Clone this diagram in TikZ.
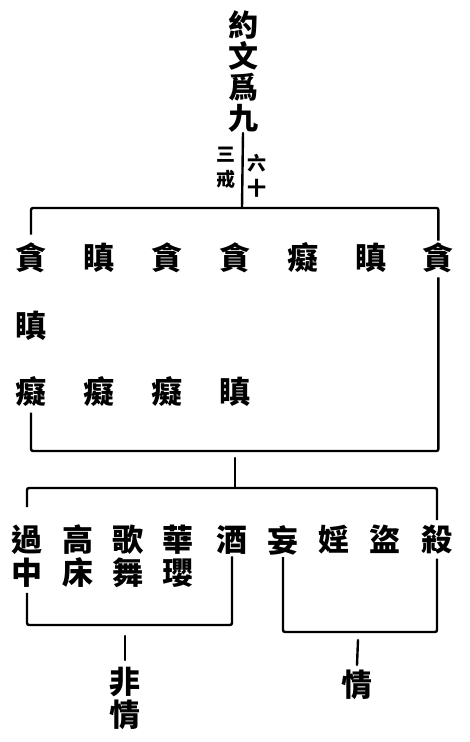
\documentclass[tikz,border=0pt]{standalone}
\usepackage{fontspec}
\newfontfamily\cjk{Noto Sans CJK TC}
\usetikzlibrary{positioning}

\begin{document}
\begin{tikzpicture}[
    x=1pt, y=-1pt,
    node distance=36.5pt,
    align=center,
    char/.style={inner sep=0pt, font=\cjk\bfseries\fontsize{31}{33}\selectfont},
    head/.style={inner sep=0pt, font=\cjk\bfseries\fontsize{30}{31}\selectfont},
    note/.style={inner sep=0pt, font=\cjk\bfseries\fontsize{19}{25}\selectfont},
    rule/.style={line width=2.4pt, line cap=round},
    bracket/.style={line width=2.4pt, rounded corners=2pt},
  ]

  \useasboundingbox (0,0) rectangle (470,742);

  % heading
  \node (title)   [head] at (243,72)  {約\\文\\爲\\九};
  \node (sanjie)  [note] at (226,168) {三\\戒};
  \node (liushi)  [note] at (257,176) {六\\十};
  \coordinate (topjoin) at (242,208);

  % first group
  \node (t1) [char] at (31,258) {貪};
  \node (t2) [char, right=of t1] {瞋};
  \node (t3) [char, right=of t2] {貪};
  \node (t4) [char, right=of t3] {貪};
  \node (t5) [char, right=of t4] {癡};
  \node (t6) [char, right=of t5] {瞋};
  \node (t7) [char, right=of t6] {貪};

  \node (t8) [char, below=38pt of t1] {瞋};

  \node (s1) [char, below=35pt of t8] {癡};
  \node (s2) [char, right=of s1] {癡};
  \node (s3) [char, right=of s2] {癡};
  \node (s4) [char, right=of s3] {瞋};

  \coordinate (midjoin) at (235,451);
  \coordinate (lowjoin) at (235,488);

  % precepts
  \node (b1) [char, anchor=north] at (27,525)  {過\\中};
  \node (b2) [char, anchor=north] at (78,525)  {高\\床};
  \node (b3) [char, anchor=north] at (128,525) {歌\\舞};
  \node (b4) [char, anchor=north] at (178,525) {華\\瓔};
  \node (b5) [char, anchor=north] at (232,525) {酒};
  \node (b6) [char, anchor=north] at (283,525) {妄};
  \node (b7) [char, anchor=north] at (334,525) {婬};
  \node (b8) [char, anchor=north] at (385,525) {盜};
  \node (b9) [char, anchor=north] at (437,525) {殺};

  \coordinate (feijoin)  at (125,625);
  \coordinate (qingjoin) at (358,632);

  \node (feiqing) [char, anchor=north] at (125,667) {非\\情};
  \node (qing)    [char, anchor=north] at (357,670) {情};

  % lines
  \draw[rule]    (title.south) -- (topjoin);
  \draw[bracket] ([yshift=8pt]t1.north) |- (topjoin) -| ([yshift=2pt]t7.north);
  \draw[bracket] ([yshift=-6pt]s1.south) |- (midjoin) -| ([yshift=-4pt]t7.south);
  \draw[rule]    ([yshift=-7pt]midjoin) -- (lowjoin);
  \draw[bracket] ([yshift=18pt]b1.north) |- (lowjoin) -| ([yshift=5pt]b9.north);

  \draw[bracket] ([yshift=-5pt]b1.south) |- (feijoin) -| ([yshift=-2pt]b5.south);
  \draw[bracket] ([yshift=-2pt]b6.south) |- (qingjoin) -| ([yshift=-4pt]b9.south);
  \draw[rule]    ([yshift=-11pt]feijoin) -- ([yshift=7pt]feiqing.north);
  \draw[rule]    ([yshift=-8pt]qingjoin) -- ([yshift=5pt]qing.north);

\end{tikzpicture}
\end{document}
